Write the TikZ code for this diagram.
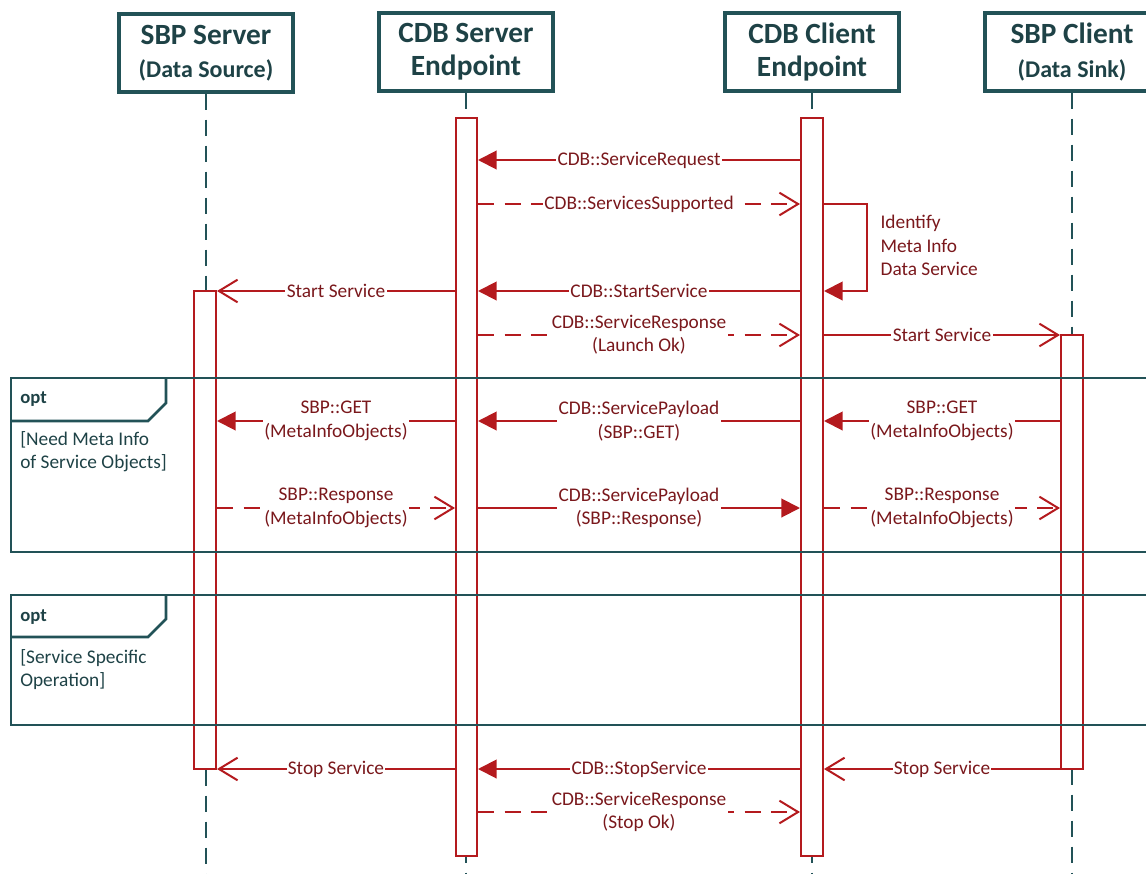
\documentclass[tikz,border=0pt]{standalone}
\usepackage{fontspec}
\setmainfont{Carlito}
\usetikzlibrary{arrows.meta, positioning, fit}
\definecolor{seqred}{RGB}{180,26,30}
\definecolor{seqtext}{RGB}{122,24,28}
\definecolor{teal1}{RGB}{34,82,87}
\definecolor{tealtext}{RGB}{30,66,70}

\begin{document}
\begin{tikzpicture}[x=0.75pt,y=-0.75pt,
    head/.style={draw=teal1,line width=3pt,fill=white,minimum width=130pt,
                 minimum height=58pt,align=center,text=tealtext,
                 font=\fontsize{22}{25}\selectfont\bfseries},
    lifeline/.style={draw=teal1,line width=1.5pt,dash pattern=on 12pt off 7.5pt},
    actbar/.style={draw=seqred,line width=1.5pt,fill=white,inner sep=0pt},
    call/.style={draw=seqred,line width=1.5pt,-{Triangle[length=14pt,width=14pt]}},
    reply/.style={draw=seqred,line width=1.5pt,dash pattern=on 12pt off 8pt,
                  -{Straight Barb[length=14pt,width=17pt]}},
    signal/.style={draw=seqred,line width=1.5pt,-{Straight Barb[length=14pt,width=17pt]}},
    lbl/.style={fill=white,text=seqtext,inner xsep=1pt,inner ysep=0pt,align=center,
                font=\fontsize{14.5}{17.5}\selectfont},
    frame/.style={draw=teal1,line width=2pt},
    guard/.style={text=tealtext,anchor=north west,align=left,inner sep=0pt,
                  font=\fontsize{14.5}{17.5}\selectfont}]

    \useasboundingbox (0,0) rectangle (1146,874);

    % lifeline heads
    \node[head] (sbpsrv) at (206,53) {SBP Server\\{\fontsize{18}{20}\selectfont (Data Source)}};
    \node[head] (cdbsrv) at (466,52) {CDB Server\\Endpoint};
    \node[head] (cdbcli) at (812,52) {CDB Client\\Endpoint};
    \node[head] (sbpcli) at (1072,52) {SBP Client\\{\fontsize{18}{20}\selectfont (Data Sink)}};

    \coordinate (bottom) at (0,874);
    \foreach \who in {sbpsrv,cdbsrv,cdbcli,sbpcli}
        \draw[lifeline] (\who) -- (\who |- bottom);

    % activation bars
    \node[actbar,fit={(456,118) (477,856)}] (cdbsrvbar) {};
    \node[actbar,fit={(801,118) (823,856)}] (cdbclibar) {};
    \node[actbar,fit={(194,291) (216,769)}] (sbpsrvbar) {};
    \node[actbar,fit={(1061,335) (1083,769)}] (sbpclibar) {};

    % message rows
    \coordinate (r1) at (0,160);
    \coordinate (r2) at (0,204);
    \coordinate (r3) at (0,291);
    \coordinate (r4) at (0,335);
    \coordinate (r5) at (0,421);
    \coordinate (r6) at (0,508);
    \coordinate (r7) at (0,769);
    \coordinate (r8) at (0,812);

    % opt frames
    \draw[frame] (11,378) rectangle (1160,552);
    \draw[frame] (11,421) -- (148,421) -- (166,403) -- (166,378);
    \node[text=tealtext,anchor=west,inner sep=0pt,font=\fontsize{14}{16}\selectfont\bfseries] (opt1) at (20,399) {opt};
    \node[guard] (guard1) at (20,431) {[Need Meta Info\\of Service Objects]};

    \draw[frame] (11,595) rectangle (1160,725);
    \draw[frame] (11,637) -- (148,637) -- (166,619) -- (166,595);
    \node[text=tealtext,anchor=west,inner sep=0pt,font=\fontsize{14}{16}\selectfont\bfseries] (opt2) at (20,617) {opt};
    \node[guard] (guard2) at (20,649) {[Service Specific\\Operation]};

    % setup
    \draw[call] (cdbclibar.west |- r1) -- node[lbl] {CDB::ServiceRequest} (cdbsrvbar.east |- r1);
    \draw[reply] (cdbsrvbar.east |- r2) -- node[lbl] {CDB::ServicesSupported} (cdbclibar.west |- r2);
    \draw[call] (cdbclibar.east |- r2) -- ++(43,0) |- (cdbclibar.east |- r3);
    \node[lbl,fill=none,anchor=north west,align=left] (identify) at (879,215) {Identify\\Meta Info\\Data Service};
    \draw[call] (cdbclibar.west |- r3) -- node[lbl] {CDB::StartService} (cdbsrvbar.east |- r3);
    \draw[signal] (cdbsrvbar.west |- r3) -- node[lbl] {Start Service} (sbpsrvbar.east |- r3);
    \draw[reply] (cdbsrvbar.east |- r4) -- node[lbl] {CDB::ServiceResponse\\(Launch Ok)} (cdbclibar.west |- r4);
    \draw[signal] (cdbclibar.east |- r4) -- node[lbl] {Start Service} (sbpclibar.west |- r4);

    % meta info
    \draw[call] (sbpclibar.west |- r5) -- node[lbl] {SBP::GET\\(MetaInfoObjects)} (cdbclibar.east |- r5);
    \draw[call] (cdbclibar.west |- r5) -- node[lbl] {CDB::ServicePayload\\(SBP::GET)} (cdbsrvbar.east |- r5);
    \draw[call] (cdbsrvbar.west |- r5) -- node[lbl] {SBP::GET\\(MetaInfoObjects)} (sbpsrvbar.east |- r5);
    \draw[reply] (sbpsrvbar.east |- r6) -- node[lbl] {SBP::Response\\(MetaInfoObjects)} (cdbsrvbar.west |- r6);
    \draw[call] (cdbsrvbar.east |- r6) -- node[lbl] {CDB::ServicePayload\\(SBP::Response)} (cdbclibar.west |- r6);
    \draw[reply] (cdbclibar.east |- r6) -- node[lbl] {SBP::Response\\(MetaInfoObjects)} (sbpclibar.west |- r6);

    % teardown
    \draw[signal] (sbpclibar.west |- r7) -- node[lbl] {Stop Service} (cdbclibar.east |- r7);
    \draw[call] (cdbclibar.west |- r7) -- node[lbl] {CDB::StopService} (cdbsrvbar.east |- r7);
    \draw[signal] (cdbsrvbar.west |- r7) -- node[lbl] {Stop Service} (sbpsrvbar.east |- r7);
    \draw[reply] (cdbsrvbar.east |- r8) -- node[lbl] {CDB::ServiceResponse\\(Stop Ok)} (cdbclibar.west |- r8);
\end{tikzpicture}
\end{document}
